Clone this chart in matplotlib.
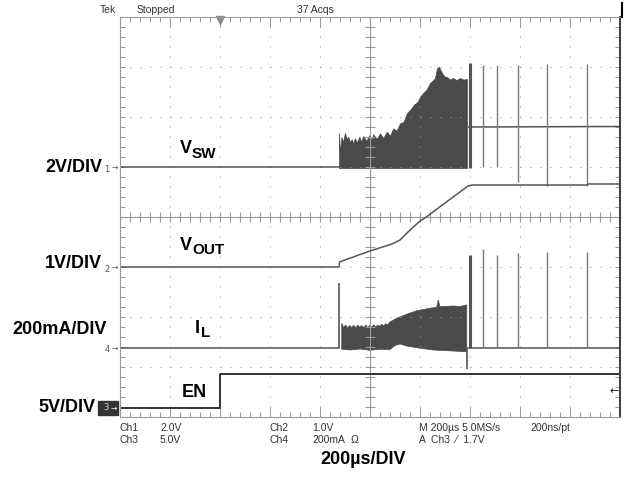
import numpy as np
import matplotlib.pyplot as plt
from matplotlib.patches import Rectangle
from matplotlib.lines import Line2D

#========= data (time in us from trigger) =========
# channel ground position (divisions from bottom) and scale per division
ch1_pos, ch1_scale = 5.0, 2.0      # VSW, V/div
ch2_pos, ch2_scale = 3.0, 1.0      # VOUT, V/div
ch4_pos, ch4_scale = 1.38, 200.0   # IL, mA/div
ch3_pos, ch3_scale = 0.18, 5.0     # EN, V/div

# VSW
sw_pre_t = [-400, 476]
sw_pre_v = [0, 0]
sw_top_t = [476, 480, 486, 492, 500, 506, 513, 520, 527, 533,
            540, 548, 557, 565, 573, 585, 597, 605, 613, 627,
            640, 653, 667, 680, 693, 706, 720, 734, 748, 762,
            776, 790, 800, 812, 826, 840, 850, 860, 868, 876,
            888, 898, 908, 920, 932, 946, 960, 974, 988]
sw_top_v = [1.35, 0.6, 1.2, 1.0, 1.37, 1.12, 1.21, 1.0, 1.11, 0.95,
            1.15, 0.98, 1.21, 1.02, 1.24, 1.05, 1.27, 1.08, 1.31, 1.12,
            1.35, 1.16, 1.41, 1.25, 1.55, 1.45, 1.75, 1.8, 2.16, 2.3,
            2.5, 2.6, 2.8, 2.95, 3.1, 3.36, 3.45, 3.56, 3.96, 4.0,
            3.76, 3.62, 3.6, 3.5, 3.56, 3.48, 3.56, 3.5, 3.52]
sw_bot_v = -0.04
sw_post_t = [992, 1600]
sw_post_v = [1.6, 1.62]

# VOUT
vout_t = [-400, 476, 478, 488, 600, 688, 720, 752, 800, 820, 900, 992, 1008, 1468, 1472, 1600]
vout_v = [0, 0, 0.1, 0.12, 0.32, 0.46, 0.54, 0.70, 0.92, 0.98, 1.28, 1.62, 1.64, 1.64, 1.66, 1.66]

# IL
il_pre_t = [-400, 476]
il_pre_ma = [0, 0]
il_start_t = 476
il_start_ma = 260
il_top_t = [487, 495, 503, 511, 519, 527, 535, 543, 551, 559,
            567, 575, 583, 591, 599, 607, 615, 623, 631, 639,
            647, 655, 663, 671, 680, 707, 747, 787, 840, 867,
            873, 880, 933, 960, 987]
il_top_ma = [99, 82, 92, 80, 90, 82, 91, 80, 92, 83,
             90, 81, 92, 82, 91, 83, 93, 84, 92, 86,
             95, 88, 97, 92, 104, 119, 135, 149, 159, 163,
             192, 165, 168, 166, 172]
il_bot_t = [487, 520, 560, 600, 640, 680, 700, 720, 747, 800, 853, 933, 987]
il_bot_ma = [-5, -8, -4, -9, -5, -6, 10, 16, 8, -1, -8, -12, -15]
il_neg_t, il_neg_ma = 988, -85
il_post_t = [992, 1600]
il_post_ma = [0, 0]

# end of soft-start burst and the later single pulses
burst_end_t = 1000
burst_end_sw = (-0.04, 4.16)
burst_end_il = 372
spike_t = [1052, 1108, 1192, 1308, 1468]
spike_sw_top = [4.08, 4.08, 4.08, 4.12, 4.12]
spike_sw_bot = [0, 0, -0.6, -0.76, -0.76]
spike_il_top = [396, 372, 380, 384, 384]

# EN
en_t = [-400, 0, 0, 1600]
en_v = [0, 0, 3.4, 3.4]
trig_level = 1.7


def div(v, pos, scale):
    return pos + np.asarray(v, dtype=float) / scale


W, H = 630, 482
def fx(x): return x / W
def fy(y): return 1 - y / H

grid_c = '#9a9a9a'
trace_c = '#555555'
fill_c = '#4a4a4a'
spike_c = '#7a7a7a'

fig = plt.figure(figsize=(6.3, 4.82), dpi=100)
ax = fig.add_axes([fx(120), fy(417), 500 / W, 400 / H])
ax.set_xlim(-400, 1600)
ax.set_ylim(0, 8)

#========= graticule =========
ax.set_xticks(np.arange(-400, 1601, 200))
ax.set_xticks(np.arange(-400, 1601, 40), minor=True)
ax.set_yticks(np.arange(0, 8.01, 1))
ax.set_yticks(np.arange(0, 8.01, 0.2), minor=True)
ax.tick_params(axis='x', which='major', direction='in', length=7.2, width=0.72,
               color=grid_c, top=True, bottom=True, labelbottom=False)
ax.tick_params(axis='x', which='minor', direction='in', length=3.6, width=0.72,
               color=grid_c, top=True, bottom=True)
ax.tick_params(axis='y', which='both', direction='in', length=3.6, width=0.72,
               color=grid_c, left=True, right=True, labelleft=False)
ax.grid(True, which='major', color=grid_c, linestyle=(0, (1, 9)), linewidth=0.72)
for s in ['left', 'top', 'bottom']:
    ax.spines[s].set_color(grid_c)
    ax.spines[s].set_linewidth(0.8)
ax.spines['right'].set_color('#444444')
ax.spines['right'].set_linewidth(1.5)

ax.axhline(4, color=grid_c, lw=0.8)
ax.axvline(600, color=grid_c, lw=0.8)
ax.plot(np.arange(-400, 1601, 40), np.full(51, 4.0), '|', color=grid_c, ms=6.5, mew=0.8)
ax.plot(np.full(41, 600), np.arange(0, 8.01, 0.2), '_', color=grid_c, ms=6.5, mew=0.8)

#========= traces =========
lw = 1.1
# VSW
ax.plot(sw_pre_t, div(sw_pre_v, ch1_pos, ch1_scale), color=trace_c, lw=lw)
ax.fill_between(sw_top_t, div(sw_bot_v, ch1_pos, ch1_scale),
                div(sw_top_v, ch1_pos, ch1_scale), color=fill_c, lw=0.5, edgecolor=fill_c)
ax.plot(sw_post_t, div(sw_post_v, ch1_pos, ch1_scale), color=trace_c, lw=lw)
ax.vlines(spike_t, div(spike_sw_bot, ch1_pos, ch1_scale), div(spike_sw_top, ch1_pos, ch1_scale),
          color=spike_c, lw=1.0)
ax.vlines(burst_end_t, *div(burst_end_sw, ch1_pos, ch1_scale), color=trace_c, lw=2.2)

# VOUT
ax.plot(vout_t, div(vout_v, ch2_pos, ch2_scale), color=trace_c, lw=lw)

# IL
ax.plot(il_pre_t, div(il_pre_ma, ch4_pos, ch4_scale), color=trace_c, lw=lw)
ax.vlines(il_start_t, ch4_pos, div(il_start_ma, ch4_pos, ch4_scale), color=trace_c, lw=1.2)
il_poly_t = il_top_t + il_bot_t[::-1]
il_poly_ma = il_top_ma + il_bot_ma[::-1]
ax.fill(il_poly_t, div(il_poly_ma, ch4_pos, ch4_scale), color=fill_c, lw=0.5)
ax.vlines(il_neg_t, div(il_neg_ma, ch4_pos, ch4_scale), ch4_pos, color=trace_c, lw=1.2)
ax.plot(il_post_t, div(il_post_ma, ch4_pos, ch4_scale), color=trace_c, lw=lw)
ax.vlines(spike_t, ch4_pos, div(spike_il_top, ch4_pos, ch4_scale), color=spike_c, lw=1.0)
ax.vlines(burst_end_t, ch4_pos, div(burst_end_il, ch4_pos, ch4_scale), color=trace_c, lw=2.2)

# EN
ax.plot(en_t, div(en_v, ch3_pos, ch3_scale), color='#333333', lw=1.4)

# trigger position marker
ax.plot([0], [7.95], 'v', color='#8a8a8a', ms=6, clip_on=False)

#========= scope text =========
sfont = dict(family='Liberation Sans', fontsize=7.5, color='#333333')
fig.text(fx(100), fy(10), 'Tek', va='center', ha='left', **sfont)
fig.text(fx(137), fy(10), 'Stopped', va='center', ha='left', **sfont)
fig.text(fx(297), fy(10), '37 Acqs', va='center', ha='left', **sfont)
fig.add_artist(Line2D([fx(622), fx(622)], [fy(3), fy(17)], color='black', lw=1.5))

fig.text(fx(120), fy(428), 'Ch1', va='center', **sfont)
fig.text(fx(160), fy(428), '2.0V', va='center', **sfont)
fig.text(fx(120), fy(440), 'Ch3', va='center', **sfont)
fig.text(fx(160), fy(440), '5.0V', va='center', **sfont)
fig.text(fx(270), fy(428), 'Ch2', va='center', **sfont)
fig.text(fx(312), fy(428), '1.0V', va='center', **sfont)
fig.text(fx(270), fy(440), 'Ch4', va='center', **sfont)
fig.text(fx(312), fy(440), '200mA', va='center', **sfont)
fig.text(fx(351), fy(440), 'Ω', va='center', **sfont)
fig.text(fx(419), fy(428), 'M 200µs 5.0MS/s', va='center', **sfont)
fig.text(fx(530), fy(428), '200ns/pt', va='center', **sfont)
fig.text(fx(419), fy(440), 'A  Ch3  ⁄  1.7V', va='center', **sfont)

# channel markers
mfont = dict(family='DejaVu Sans', fontsize=6, color='#555555', va='center', ha='center')
for num, pos in [('1', ch1_pos), ('2', ch2_pos), ('4', ch4_pos)]:
    y = 417 - pos * 50
    fig.text(fx(107), fy(y + 2), num, **mfont)
    fig.text(fx(115), fy(y), '→', family='DejaVu Sans', fontsize=5.5, color='#555555',
             va='center', ha='center')
y3 = 417 - ch3_pos * 50
fig.add_artist(Rectangle((fx(98), fy(415)), 20 / W, 14 / H, transform=fig.transFigure,
                         color='#333333'))
fig.text(fx(106), fy(y3), '3', family='DejaVu Sans', fontsize=6, color='#dddddd',
         va='center', ha='center')
fig.text(fx(113.5), fy(y3), '→', family='DejaVu Sans', fontsize=5.5, color='white',
         va='center', ha='center')
ytrig = 417 - (ch3_pos + trig_level / ch3_scale) * 50
fig.text(fx(614), fy(ytrig), '←', family='DejaVu Sans', fontsize=8, color='#222222',
         va='center', ha='center')

#========= bold labels =========
bfont = dict(family='Liberation Sans', fontweight='bold', color='black')
fig.text(fx(102), fy(172), '2V/DIV', ha='right', va='baseline', fontsize=13, **bfont)
fig.text(fx(102), fy(268), '1V/DIV', ha='right', va='baseline', fontsize=13, **bfont)
fig.text(fx(107), fy(334), '200mA/DIV', ha='right', va='baseline', fontsize=13, **bfont)
fig.text(fx(95), fy(412), '5V/DIV', ha='right', va='baseline', fontsize=13, **bfont)

fig.text(fx(180), fy(153), 'V', ha='left', va='baseline', fontsize=13, **bfont)
fig.text(fx(192), fy(158), 'SW', ha='left', va='baseline', fontsize=11, **bfont)
fig.text(fx(180), fy(250), 'V', ha='left', va='baseline', fontsize=13, **bfont)
fig.text(fx(192), fy(254), 'OUT', ha='left', va='baseline', fontsize=11, **bfont)
fig.text(fx(195), fy(333), 'I', ha='left', va='baseline', fontsize=13, **bfont)
fig.text(fx(201.5), fy(337), 'L', ha='left', va='baseline', fontsize=11, **bfont)
fig.text(fx(182), fy(397), 'EN', ha='left', va='baseline', fontsize=13, **bfont)

fig.text(fx(320), fy(464), '200µs/DIV', ha='left', va='baseline', fontsize=13, **bfont)

fig.savefig('out.png', dpi=100)
